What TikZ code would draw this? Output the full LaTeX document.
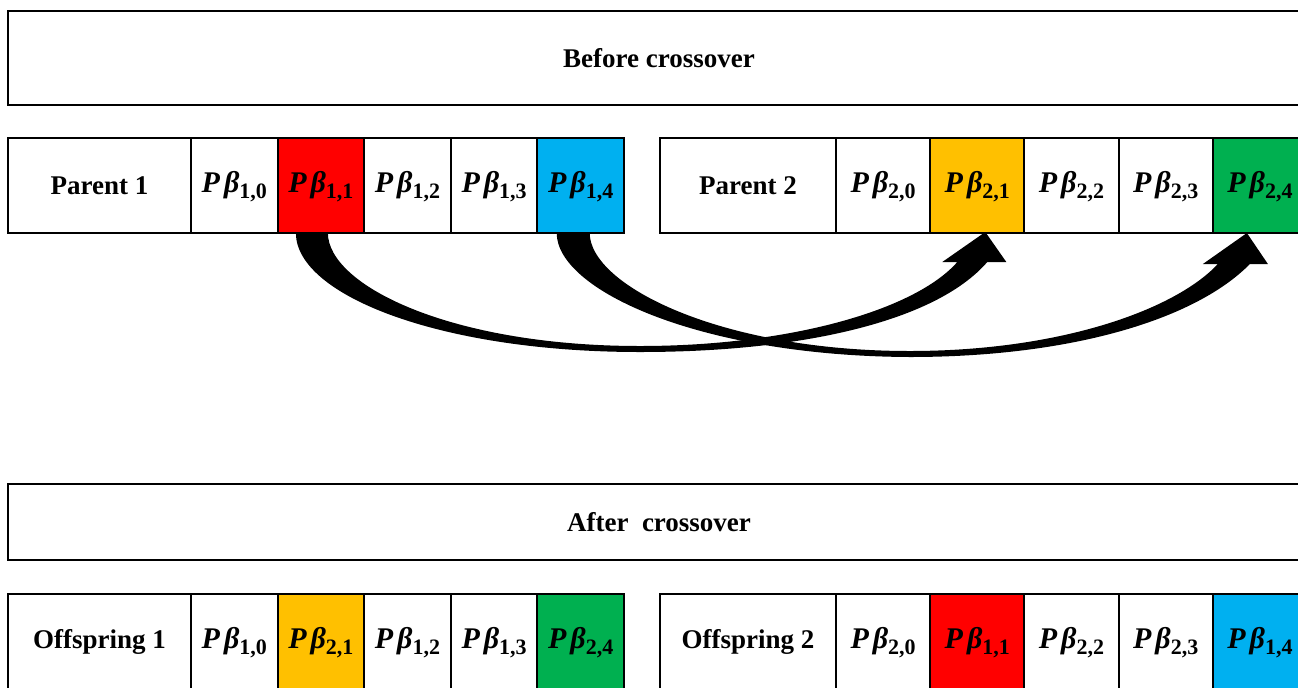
\documentclass[tikz,border=0pt]{standalone}
\usepackage{fontspec}
\setmainfont{Liberation Serif}
\usetikzlibrary{positioning, calc}
\definecolor{genered}{HTML}{FF0000}
\definecolor{geneblue}{HTML}{00B0F0}
\definecolor{geneorange}{HTML}{FFC000}
\definecolor{genegreen}{HTML}{00B050}
\tikzset{
	framebox/.style={draw, rectangle, line width=1pt, inner sep=0pt, outer sep=0pt,
		font=\fontsize{13.5}{16}\selectfont\bfseries}
}
\tikzset{
	labelcell/.style={framebox, anchor=north west, minimum height=47.5pt},
	genecell/.style={framebox, anchor=north west, minimum height=47.5pt,
		font=\fontsize{15}{18}\selectfont\bfseries}
}
\newcommand{\pbeta}[2]{\textit{P\kern2pt β}\raisebox{-2.8pt}[0pt][0pt]{\fontsize{11}{12}\selectfont\upshape#1,#2}}

\begin{document}
\begin{tikzpicture}[x=0.5pt, y=-0.5pt]
      \useasboundingbox (0,0) rectangle (1298,687);
      % titles
      \node[framebox, anchor=north west, minimum width=651pt, minimum height=47pt] (before) at (8,11) {Before crossover};
      \node[framebox, anchor=north west, minimum width=651pt, minimum height=38pt] (after) at (8,484) {After\ \ crossover};
      % parents
      \node[labelcell, minimum width=91.5pt] (par1) at (8,138) {Parent 1};
      \foreach \i/\col in {0/white, 1/genered, 2/white, 3/white, 4/geneblue}
        \node[genecell, fill=\col, minimum width=43.3pt] (par1-\i) at (191+86.6*\i,138) {\pbeta{1}{\i}};
      \node[labelcell, minimum width=88pt] (par2) at (660,138) {Parent 2};
      \foreach \i/\col in {0/white, 1/geneorange, 2/white, 3/white, 4/genegreen}
        \node[genecell, fill=\col, minimum width=47.1pt] (par2-\i) at (836+94.2*\i,138) {\pbeta{2}{\i}};
      % offspring
      \node[labelcell, minimum width=91.5pt] (off1) at (8,594) {Offspring 1};
      \foreach \i/\p/\col in {0/1/white, 1/2/geneorange, 2/1/white, 3/1/white, 4/2/genegreen}
        \node[genecell, fill=\col, minimum width=43.3pt] (off1-\i) at (191+86.6*\i,594) {\pbeta{\p}{\i}};
      \node[labelcell, minimum width=88pt] (off2) at (660,594) {Offspring 2};
      \foreach \i/\p/\col in {0/2/white, 1/1/genered, 2/2/white, 3/2/white, 4/1/geneblue}
        \node[genecell, fill=\col, minimum width=47.1pt] (off2-\i) at (836+94.2*\i,594) {\pbeta{\p}{\i}};
      % swap arrows
      \fill ($(par1-1.south)+(-25,0)$) .. controls ($(par1-1.south)+(-25,62)$) and ($(par1-1.south)+(119,119)$) .. ($(par1-1.south)+(319,119)$)
        .. controls ($(par1-1.south)+(479,119)$) and ($(par2-1.south)+(-42,89)$) .. ($(par2-1.south)+(10,29)$)
        -- ($(par2-1.south)+(29,29)$) -- ($(par2-1.south)+(8,-1)$) -- ($(par2-1.south)+(-35,29)$) -- ($(par2-1.south)+(-20,29)$)
        .. controls ($(par2-1.south)+(-62,77)$) and ($(par1-1.south)+(469,113)$) .. ($(par1-1.south)+(319,113)$)
        .. controls ($(par1-1.south)+(129,113)$) and ($(par1-1.south)+(7,52)$) .. ($(par1-1.south)+(7,0)$) -- cycle;
      \fill ($(par1-4.south)+(-24,0)$) .. controls ($(par1-4.south)+(-24,57)$) and ($(par1-4.south)+(119,123)$) .. ($(par1-4.south)+(329,124)$)
        .. controls ($(par2-4.south)+(-190,124)$) and ($(par2-4.south)+(-65,87)$) .. ($(par2-4.south)+(-10,31)$)
        -- ($(par2-4.south)+(8,31)$) -- ($(par2-4.south)+(-13,0)$) -- ($(par2-4.south)+(-57,31)$) -- ($(par2-4.south)+(-42,31)$)
        .. controls ($(par2-4.south)+(-85,77)$) and ($(par2-4.south)+(-200,118)$) .. ($(par1-4.south)+(329,118)$)
        .. controls ($(par1-4.south)+(139,118)$) and ($(par1-4.south)+(9,52)$) .. ($(par1-4.south)+(9,0)$) -- cycle;
    \end{tikzpicture}
\end{document}
